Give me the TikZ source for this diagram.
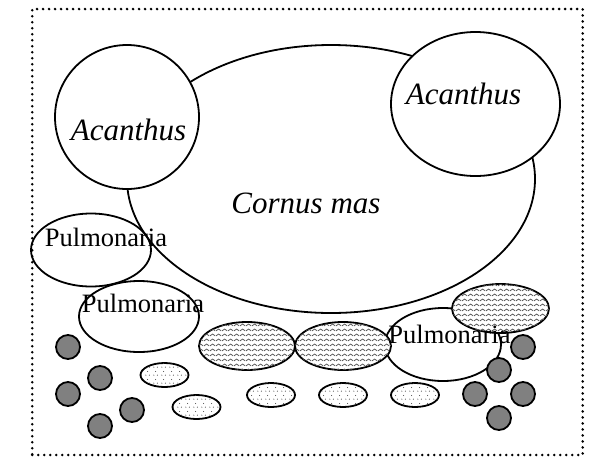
\documentclass[tikz,border=0pt]{standalone}
\usepackage{fontspec}
\setmainfont{Liberation Serif}
\usetikzlibrary{shapes.geometric,patterns}

\pgfdeclarepatternformonly{wavy}{\pgfqpoint{0pt}{0pt}}{\pgfqpoint{6pt}{5pt}}{\pgfqpoint{6pt}{5pt}}{%
  \pgfsetlinewidth{0.9pt}%
  \pgfpathmoveto{\pgfqpoint{0pt}{1.3pt}}%
  \pgfpathlineto{\pgfqpoint{3pt}{3.5pt}}%
  \pgfpathlineto{\pgfqpoint{6pt}{1.3pt}}%
  \pgfusepath{stroke}}
\pgfdeclarepatternformonly{sparsedots}{\pgfqpoint{0pt}{0pt}}{\pgfqpoint{8pt}{8pt}}{\pgfqpoint{8pt}{8pt}}{%
  \pgfpathcircle{\pgfqpoint{2pt}{2pt}}{0.6pt}%
  \pgfpathcircle{\pgfqpoint{6pt}{2pt}}{0.6pt}%
  \pgfpathcircle{\pgfqpoint{4pt}{6pt}}{0.6pt}%
  \pgfusepath{fill}}

\tikzset{
  outline/.style={draw, line width=1.8pt, ellipse, inner sep=0pt},
  bigplant/.style={outline},
  whiteplant/.style={outline, fill=white},
  waveplant/.style={outline, fill=white, postaction={pattern=wavy, pattern color=black!65}},
  dotplant/.style={outline, minimum width=48pt, minimum height=24pt, fill=white,
    postaction={pattern=sparsedots, pattern color=black!75}},
  grayplant/.style={outline, circle, minimum size=24pt, fill=black!50},
  bigname/.style={inner sep=0pt, anchor=base, font=\fontsize{31}{31}\selectfont\itshape},
  smallname/.style={inner sep=0pt, anchor=base, font=\fontsize{26.5}{26.5}\selectfont},
  frame/.style={draw, line width=2.8pt, dash pattern=on 0pt off 6pt, line cap=round,
    minimum width=550.4pt, minimum height=446pt, inner sep=0pt}
}

\begin{document}
\begin{tikzpicture}[x=1pt,y=-1pt]
\useasboundingbox (0,0) rectangle (592,456);
\node[frame] (border) at (307.5,232) {};

\node[bigplant, minimum width=408pt, minimum height=268pt] (cornus) at (331,179) {};
\node[whiteplant, minimum width=144pt, minimum height=144pt] (acanthusL) at (127,117) {};
\node[whiteplant, minimum width=169pt, minimum height=144pt] (acanthusR) at (475.5,104) {};

\node[bigplant, minimum width=120pt, minimum height=73pt] (pulm1) at (91,250) {};
\node[bigplant, minimum width=120pt, minimum height=71pt] (pulm2) at (139,316.5) {};
\node[bigplant, minimum width=116pt, minimum height=73pt] (pulm3) at (443,344.5) {};

\node[waveplant, minimum width=96pt, minimum height=48pt] (wave1) at (247,346) {};
\node[waveplant, minimum width=96pt, minimum height=48pt] (wave2) at (343,346) {};
\node[waveplant, minimum width=97pt, minimum height=49pt] (wave3) at (500.5,308.5) {};

\node[dotplant] (dot1) at (164.5,375) {};
\node[dotplant] (dot2) at (196.5,407) {};
\node[dotplant] (dot3) at (271,395) {};
\node[dotplant] (dot4) at (343,395) {};
\node[dotplant] (dot5) at (415,395) {};

\node[grayplant] (g1) at (68,347) {};
\node[grayplant] (g2) at (100,378) {};
\node[grayplant] (g3) at (68,394) {};
\node[grayplant] (g4) at (132,410) {};
\node[grayplant] (g5) at (100,426) {};
\node[grayplant] (g6) at (523,347) {};
\node[grayplant] (g7) at (499,370) {};
\node[grayplant] (g8) at (475,394) {};
\node[grayplant] (g9) at (523,394) {};
\node[grayplant] (g10) at (499,418) {};

\node[bigname] (tAcL) at (128.5,140) {Acanthus};
\node[bigname] (tAcR) at (463.5,104) {Acanthus};
\node[bigname] (tCornus) at (306,213.5) {Cornus mas};
\node[smallname] (tP1) at (106,246) {Pulmonaria};
\node[smallname] (tP2) at (143,312) {Pulmonaria};
\node[smallname] (tP3) at (449.5,343) {Pulmonaria};
\end{tikzpicture}
\end{document}
